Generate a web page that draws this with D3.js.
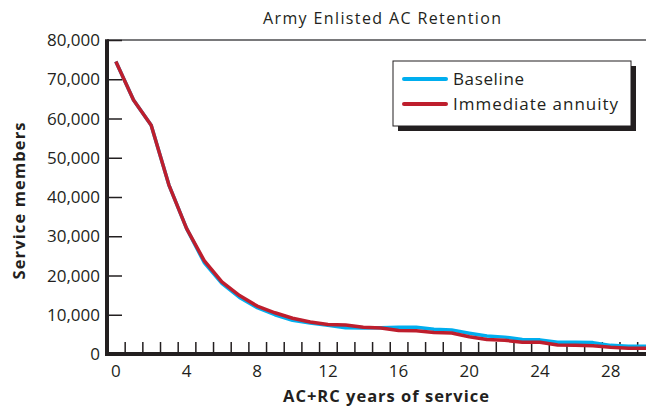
<!DOCTYPE html>
<html>
<head>
<meta charset="utf-8">
<script src="https://cdn.jsdelivr.net/npm/d3@7"></script>
<style>
  body { margin: 0; background: #fff; }
  text { font-family: "Open Sans", "Noto Sans", sans-serif; fill: #231f20; }
</style>
</head>
<body>
<svg id="chart"></svg>
<script>
// years of service
const years = d3.range(0, 31);

// service members, in thousands
const baseline = [74.5, 64.7, 58.3, 43.1, 32.0, 23.3, 18.0, 14.4, 11.8, 10.0,
    8.6, 7.9, 7.3, 6.7, 6.6, 6.7, 6.8, 6.8, 6.3, 6.1,
    5.3, 4.6, 4.3, 3.7, 3.6, 3.0, 3.0, 2.9, 2.2, 2.0, 2.0];
const annuity = [74.5, 64.7, 58.3, 43.1, 32.0, 23.8, 18.4, 14.9, 12.2, 10.5,
    9.1, 8.15, 7.5, 7.4, 6.8, 6.6, 6.0, 5.9, 5.5, 5.35,
    4.4, 3.7, 3.5, 3.0, 3.0, 2.3, 2.2, 2.1, 1.7, 1.45, 1.45];

const yTicks = [0, 10000, 20000, 30000, 40000, 50000, 60000, 70000, 80000];
const xTicks = [0, 4, 8, 12, 16, 20, 24, 28];

const series = [
    {name: "Baseline", values: baseline, color: "#00aeef", len: 71},
    {name: "Immediate annuity", values: annuity, color: "#be1e2d", len: 165}
];

const width = 646;
const height = 408;
const margin = {top: 40, right: 0, bottom: 54, left: 107};

const svg = d3.select("#chart")
    .attr("width", width)
    .attr("height", height);

const x = d3.scaleLinear()
    .domain([-0.5, 30])
    .range([margin.left, width - margin.right]);

const y = d3.scaleLinear()
    .domain([0, 80000])
    .range([height - margin.bottom, margin.top]);

// title
svg.append("text")
    .attr("x", 382)
    .attr("y", 23.5)
    .attr("text-anchor", "middle")
    .attr("font-size", 16)
    .attr("textLength", 238)
    .attr("lengthAdjust", "spacing")
    .text("Army Enlisted AC Retention");

// top border
svg.append("line")
    .attr("x1", margin.left).attr("x2", width)
    .attr("y1", y(80000)).attr("y2", y(80000))
    .attr("stroke", "#4d4d4f")
    .attr("stroke-width", 1.5);

// y axis, ticks point into the plot
const yAxis = svg.append("g")
    .attr("transform", `translate(${margin.left},0)`)
    .call(d3.axisRight(y).tickValues(yTicks).tickSize(15).tickFormat(""));
yAxis.select(".domain").remove();
yAxis.selectAll("line").attr("stroke", "#231f20").attr("stroke-width", 1.5);

svg.append("g")
    .selectAll("text")
    .data(yTicks)
    .join("text")
        .attr("x", 100)
        .attr("y", d => y(d))
        .attr("dy", "0.36em")
        .attr("text-anchor", "end")
        .attr("font-size", 17)
        .text(d => d3.format(",")(d));

// x axis: small ticks between the years, labels every 4 years
const xAxis = svg.append("g")
    .attr("transform", `translate(0,${y(0)})`)
    .call(d3.axisTop(x).tickValues(d3.range(0.5, 30, 1)).tickSize(12).tickFormat(""));
xAxis.select(".domain").remove();
xAxis.selectAll("line").attr("stroke", "#231f20").attr("stroke-width", 1.5);

svg.append("g")
    .selectAll("text")
    .data(xTicks)
    .join("text")
        .attr("x", d => x(d))
        .attr("y", 377)
        .attr("text-anchor", "middle")
        .attr("font-size", 17)
        .text(d => d);

// series lines
const line = d3.line()
    .x((d, i) => x(years[i]))
    .y(d => y(d * 1000));

svg.append("g")
    .attr("fill", "none")
    .attr("stroke-width", 3.5)
    .attr("stroke-linejoin", "round")
    .selectAll("path")
    .data(series)
    .join("path")
        .attr("stroke", d => d.color)
        .attr("d", d => line(d.values));

// heavy axis lines
svg.append("line")
    .attr("x1", margin.left).attr("x2", margin.left)
    .attr("y1", y(80000) - 0.75).attr("y2", y(0) + 2)
    .attr("stroke", "#231f20")
    .attr("stroke-width", 4);
svg.append("line")
    .attr("x1", margin.left - 2).attr("x2", width)
    .attr("y1", y(0)).attr("y2", y(0))
    .attr("stroke", "#231f20")
    .attr("stroke-width", 4);

// axis titles
svg.append("text")
    .attr("x", 386)
    .attr("y", 401.5)
    .attr("text-anchor", "middle")
    .attr("font-size", 16.5)
    .attr("font-weight", "bold")
    .attr("textLength", 206)
    .attr("lengthAdjust", "spacing")
    .text("AC+RC years of service");

svg.append("text")
    .attr("transform", "translate(25,201) rotate(-90)")
    .attr("text-anchor", "middle")
    .attr("font-size", 16.5)
    .attr("font-weight", "bold")
    .attr("textLength", 157)
    .attr("lengthAdjust", "spacing")
    .text("Service members");

// legend with drop shadow
const legend = svg.append("g").attr("transform", "translate(393,61)");
legend.append("rect")
    .attr("x", 5).attr("y", 5)
    .attr("width", 238).attr("height", 65)
    .attr("fill", "#231f20");
legend.append("rect")
    .attr("width", 238).attr("height", 65)
    .attr("fill", "#fff")
    .attr("stroke", "#231f20")
    .attr("stroke-width", 1);

const item = legend.selectAll("g.item")
    .data(series)
    .join("g")
        .attr("class", "item")
        .attr("transform", (d, i) => `translate(0,${18 + i * 25})`);
item.append("line")
    .attr("x1", 11).attr("x2", 53)
    .attr("stroke", d => d.color)
    .attr("stroke-width", 4)
    .attr("stroke-linecap", "round");
item.append("text")
    .attr("x", 60)
    .attr("dy", "0.36em")
    .attr("font-size", 17)
    .attr("textLength", d => d.len)
    .attr("lengthAdjust", "spacing")
    .text(d => d.name);
</script>
</body>
</html>
